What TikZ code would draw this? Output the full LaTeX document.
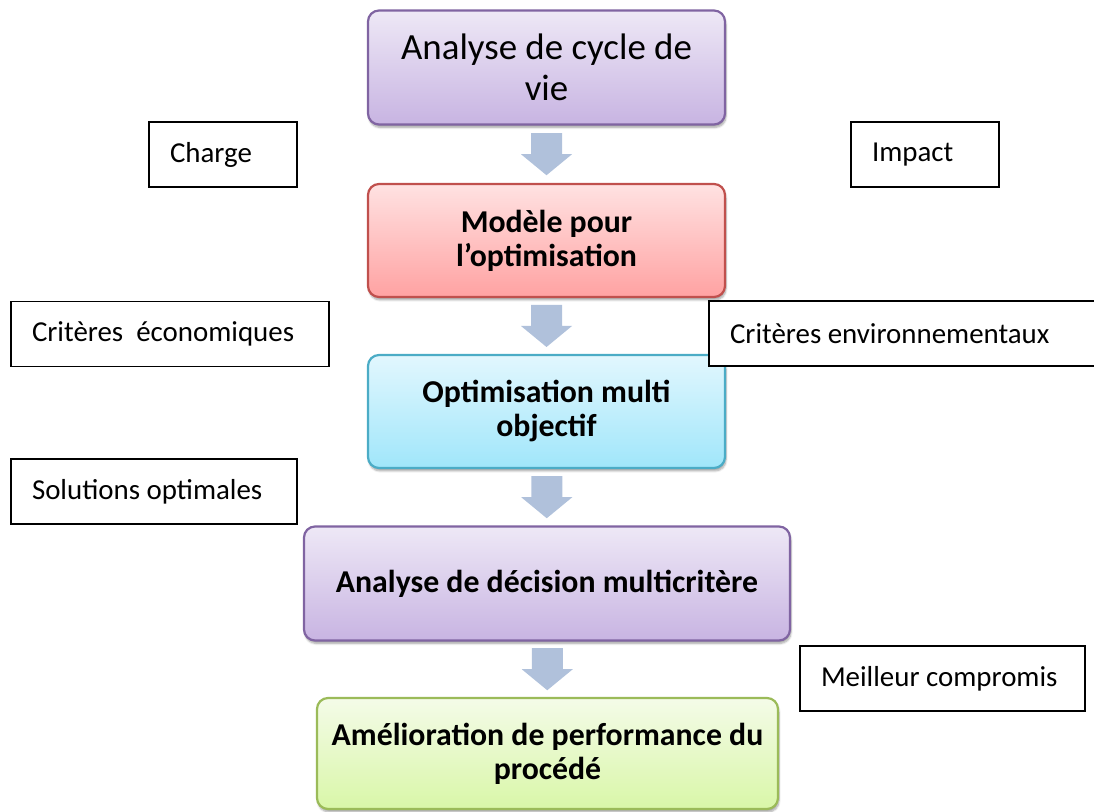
\documentclass[tikz,border=0pt]{standalone}
\usepackage{fontspec}
\setmainfont{Carlito}
\usetikzlibrary{calc,shadows.blur}

\definecolor{purpleline}{HTML}{8064A2}
\definecolor{purpletop}{HTML}{EEE8F6}
\definecolor{purplebot}{HTML}{C8B4E2}
\definecolor{redline}{HTML}{C0504D}
\definecolor{redtop}{HTML}{FFE2E2}
\definecolor{redbot}{HTML}{FFA2A2}
\definecolor{blueline}{HTML}{4BACC6}
\definecolor{bluetop}{HTML}{E2F7FE}
\definecolor{bluebot}{HTML}{A0E6FA}
\definecolor{greenline}{HTML}{9BBB59}
\definecolor{greentop}{HTML}{F4FBE8}
\definecolor{greenbot}{HTML}{D9F7A8}
\definecolor{arrowfill}{HTML}{B0C1DB}

\tikzset{
  x=1pt, y=1pt,
  stage/.style={rounded corners=11pt, line width=2.2pt, align=center,
    inner sep=0pt, shading=axis, shading angle=0,
    blur shadow={shadow xshift=1pt, shadow yshift=-3pt, shadow blur steps=6, shadow opacity=35}},
  purplestage/.style={stage, draw=purpleline, top color=purpletop, bottom color=purplebot},
  redstage/.style={stage, draw=redline, top color=redtop, bottom color=redbot},
  bluestage/.style={stage, draw=blueline, top color=bluetop, bottom color=bluebot},
  greenstage/.style={stage, draw=greenline, top color=greentop, bottom color=greenbot},
  boldtext/.style={font=\fontsize{31.8}{34}\selectfont\bfseries},
  tag/.style={draw=black, line width=1.5pt, fill=white, minimum height=65pt,
    inner xsep=21pt, inner ysep=0pt,
    font=\fontsize{28.9}{32}\selectfont},
}

% block arrow centred between two stacked stages
\newcommand\flowarrow[2]{%
  \path ($(#1.south)!0.5!(#2.north)$) coordinate (m);
  \fill[arrowfill] ($(m)+(-15.5,21)$) -- ($(m)+(15.5,21)$) -- ($(m)+(15.5,0)$)
    -- ($(m)+(25.5,0)$) -- ($(m)+(0,-21)$) -- ($(m)+(-25.5,0)$)
    -- ($(m)+(-15.5,0)$) -- cycle;}

\begin{document}
\begin{tikzpicture}
\useasboundingbox (0,0) rectangle (1094,811);
\clip (0,0) rectangle (1094,811);

% main stages
\node[purplestage, minimum width=357pt, minimum height=114pt,
  font=\fontsize{36.9}{41}\selectfont] (acv) at (546.5,743.5) {Analyse de cycle de\\vie};
\node[redstage, boldtext, minimum width=357pt, minimum height=113pt]
  (model) at (546.5,570.5) {Modèle pour\\l’optimisation};
\node[bluestage, boldtext, minimum width=357pt, minimum height=113pt]
  (optim) at (546.5,399.5) {Optimisation multi\\objectif};
\node[purplestage, boldtext, minimum width=486pt, minimum height=114pt]
  (amcd) at (547,227.5) {Analyse de décision multicritère};
\node[greenstage, boldtext, minimum width=461pt, minimum height=111pt]
  (perf) at (547.5,57.5) {Amélioration de performance du\\procédé};

% arrows between stages
\flowarrow{acv}{model}
\flowarrow{model}{optim}
\flowarrow{optim}{amcd}
\flowarrow{amcd}{perf}

% side labels
\node[tag] (charge) at (223,656.5) {\makebox[106pt][l]{Charge}};
\node[tag] (impact) at (925,656.5) {\makebox[106pt][l]{Impact}};
\node[tag] (eco) at (170,477) {\makebox[276pt][l]{Critères\ \ économiques}};
\node[tag] (env) at (910,477.5) {\makebox[360pt][l]{Critères environnementaux}};
\node[tag] (sol) at (154,319.5) {\makebox[244pt][l]{Solutions optimales}};
\node[tag] (best) at (942.5,132.5) {\makebox[243pt][l]{Meilleur compromis}};
\end{tikzpicture}
\end{document}
